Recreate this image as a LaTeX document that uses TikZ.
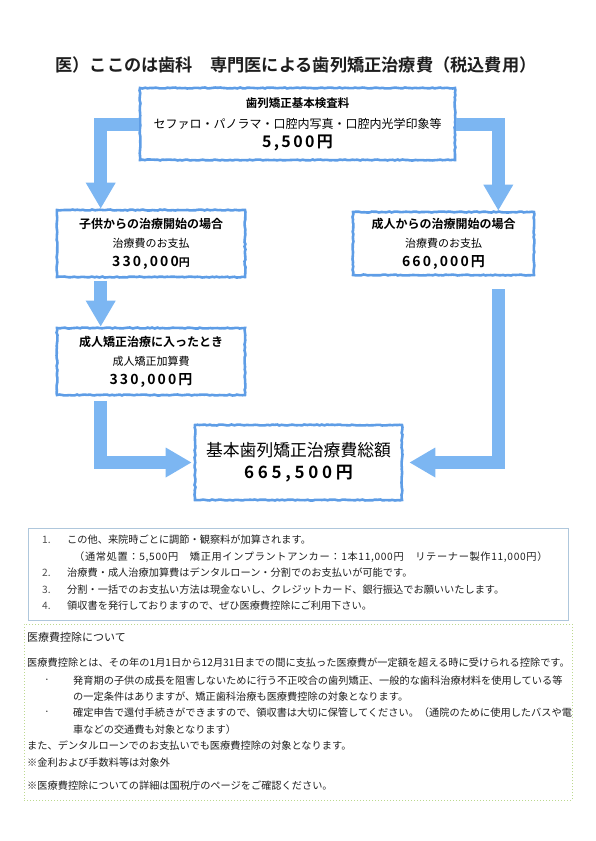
\documentclass[tikz,border=0pt]{standalone}
\usepackage{fontspec}
\setmainfont{Noto Sans CJK JP}[BoldFont={Noto Sans CJK JP Bold}]
\newfontfamily\numfont{Noto Sans CJK JP Bold}[LetterSpace=15]
\newfontfamily\bignumfont{Noto Sans CJK JP Bold}[LetterSpace=22]
\usetikzlibrary{positioning,arrows.meta,decorations.pathmorphing}
\definecolor{boxblue}{HTML}{5E9DE6}
\definecolor{arrowblue}{HTML}{7CB6F2}
\definecolor{noteblue}{HTML}{AFC7DC}
\definecolor{notegreen}{HTML}{BCD98F}
\definecolor{ink}{HTML}{1E1E1E}
\tikzset{
    costbox/.style={draw=boxblue, line width=2.6pt, fill=white, align=center, inner sep=0pt,
        decorate, decoration={random steps, segment length=2.5pt, amplitude=0.5pt}},
    flowarrow/.style={draw=arrowblue, line width=13pt, -{Triangle[width=28pt,length=26pt]}},
    noteline/.style={anchor=west, inner sep=0pt, text=ink, font=\fontsize{10.2}{12}\selectfont},
}

\begin{document}
\begin{tikzpicture}[x=1pt, y=-1pt]
    \useasboundingbox (0,0) rectangle (595,841);

    \node[text=ink, font=\bfseries\fontsize{17.2}{20}\selectfont] (title) at (296,65) {医）ここのは歯科　専門医による歯列矯正治療費（税込費用）};

    % cost boxes
    \node[costbox, minimum width=315pt, minimum height=72pt, font=\fontsize{12}{19}\selectfont] (basic) at (297.5,124)
        {{\bfseries\fontsize{11.5}{19}\selectfont 歯列矯正基本検査料}\\[2pt]
         セファロ・パノラマ・口腔内写真・口腔内光学印象等\\
         {\numfont\fontsize{16}{19}\selectfont 5,500円}};
    \node[costbox, minimum width=188pt, minimum height=67pt, font=\fontsize{11}{19}\selectfont] (child) at (151,243.5)
        {{\bfseries\fontsize{12}{19}\selectfont 子供からの治療開始の場合}\\
         治療費のお支払\\
         {\numfont\fontsize{14}{19}\selectfont 330,000{\fontsize{11}{19}\selectfont 円}}};
    \node[costbox, minimum width=181pt, minimum height=63pt, font=\fontsize{11}{19}\selectfont] (adult) at (443.5,243.5)
        {{\bfseries\fontsize{12}{19}\selectfont 成人からの治療開始の場合}\\
         治療費のお支払\\
         {\numfont\fontsize{14}{19}\selectfont 660,000円}};
    \node[costbox, minimum width=188pt, minimum height=67pt, font=\fontsize{11}{19}\selectfont] (added) at (151,361.5)
        {{\bfseries\fontsize{12}{19}\selectfont 成人矯正治療に入ったとき}\\
         成人矯正加算費\\
         {\numfont\fontsize{14}{19}\selectfont 330,000円}};
    \node[costbox, minimum width=207pt, minimum height=75pt, font=\fontsize{16.8}{22}\selectfont] (total) at (298.5,462.5)
        {基本歯列矯正治療費総額\\
         {\bignumfont\fontsize{17}{22}\selectfont 665,500円}};

    % arrows
    \draw[flowarrow] (basic.west) -| ([xshift=45pt]child.north west);
    \draw[flowarrow] (basic.east) -| ([xshift=-37pt]adult.north east);
    \draw[flowarrow, shorten <=3pt] ([xshift=45pt]child.south west) -- ([xshift=45pt]added.north west);
    \draw[flowarrow, shorten <=5pt] ([xshift=45pt]added.south west) |- ([xshift=-2pt]total.west);
    \draw[flowarrow, shorten <=13pt] ([xshift=-37pt]adult.south east) |- ([xshift=6pt]total.east);

    % notes
    \node[draw=noteblue, line width=0.8pt, minimum width=540pt, minimum height=92pt] (notes) at (298,574) {};
    \node[noteline, text=black!70] (num1) at (42,540) {1.};
    \node[noteline] (note1) at (67,540) {この他、来院時ごとに調節・観察料が加算されます。};
    \node[noteline] (note1b) at (74,557) {\addfontfeature{LetterSpace=6.5}（通常処置：5,500円　矯正用インプラントアンカー：1本11,000円　リテーナー製作11,000円）};
    \node[noteline, text=black!70] (num2) at (42,573) {2.};
    \node[noteline] (note2) at (67,573) {治療費・成人治療加算費はデンタルローン・分割でのお支払いが可能です。};
    \node[noteline, text=black!70] (num3) at (42,590) {3.};
    \node[noteline] (note3) at (67,590) {分割・一括でのお支払い方法は現金ないし、クレジットカード、銀行振込でお願いいたします。};
    \node[noteline, text=black!70] (num4) at (42,606) {4.};
    \node[noteline] (note4) at (67,606) {領収書を発行しておりますので、ぜひ医療費控除にご利用下さい。};

    % medical expense deduction
    \node[draw=notegreen, dotted, line width=1pt, minimum width=548pt, minimum height=176pt] (tax) at (298,712) {};
    \node[noteline, font=\fontsize{11}{13}\selectfont] (taxtitle) at (27,637) {医療費控除について};
    \node[noteline] (tax1) at (27,663) {医療費控除とは、その年の1月1日から12月31日までの間に支払った医療費が一定額を超える時に受けられる控除です。};
    \node[noteline] (dot1) at (44,681) {·};
    \node[noteline] (tax2) at (73,681) {発育期の子供の成長を阻害しないために行う不正咬合の歯列矯正、一般的な歯科治療材料を使用している等};
    \node[noteline] (tax3) at (73,697) {の一定条件はありますが、矯正歯科治療も医療費控除の対象となります。};
    \node[noteline] (dot2) at (44,713) {·};
    \node[noteline] (tax4) at (73,713) {確定申告で還付手続きができますので、領収書は大切に保管してください。（通院のために使用したバスや電};
    \node[noteline] (tax5) at (73,730) {車などの交通費も対象となります）};
    \node[noteline] (tax6) at (27,746) {また、デンタルローンでのお支払いでも医療費控除の対象となります。};
    \node[noteline] (tax7) at (27,763) {※金利および手数料等は対象外};
    \node[noteline] (tax8) at (27,786) {※医療費控除についての詳細は国税庁のページをご確認ください。};

\end{tikzpicture}
\end{document}
